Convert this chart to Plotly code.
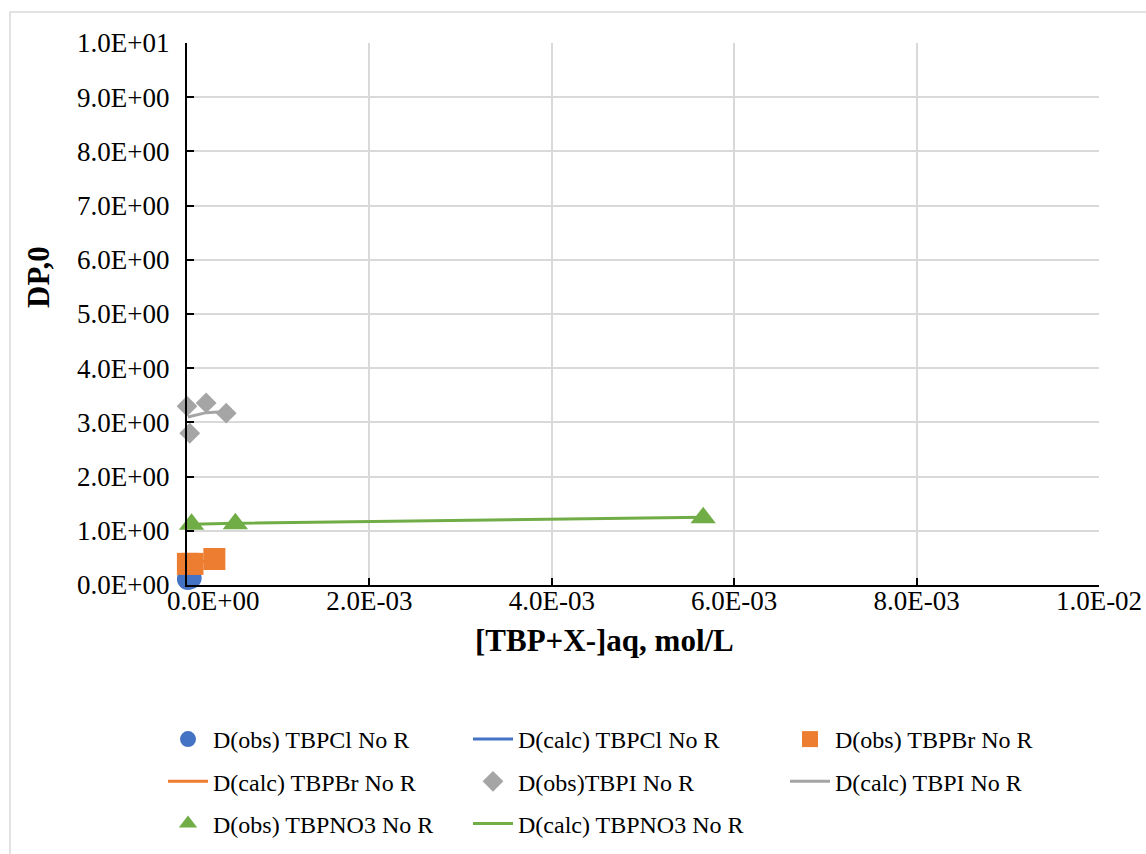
import plotly.graph_objects as go

# Distribution ratio data, TBP+ salts without reagent
cl_x = [0.00001, 0.00004]
cl_obs = [0.11, 0.13]
cl_calc = [0.12, 0.12]

br_x = [0.00001, 0.00006, 0.00030]
br_obs = [0.39, 0.39, 0.48]
br_calc = [0.41, 0.42, 0.45]

i_x = [0.00000, 0.00021, 0.00043, 0.00003]
i_obs = [3.30, 3.36, 3.17, 2.80]
i_calc_x = [0.00001, 0.00021, 0.00043]
i_calc = [3.10, 3.18, 3.20]

no3_x = [0.00005, 0.00053, 0.00566]
no3_obs = [1.12, 1.13, 1.24]
no3_calc = [1.12, 1.14, 1.25]

x_tickvals = [0, 0.002, 0.004, 0.006, 0.008, 0.010]
x_ticktext = ["0.0E+00", "2.0E-03", "4.0E-03", "6.0E-03", "8.0E-03", "1.0E-02"]
y_tickvals = [0, 1, 2, 3, 4, 5, 6, 7, 8, 9, 10]
y_ticktext = ["0.0E+00", "1.0E+00", "2.0E+00", "3.0E+00", "4.0E+00", "5.0E+00",
              "6.0E+00", "7.0E+00", "8.0E+00", "9.0E+00", "1.0E+01"]

BLUE, ORANGE, GREY, GREEN = "#4472C4", "#ED7D31", "#A5A5A5", "#70AD47"
FONT = "Liberation Serif, Times New Roman, serif"

fig = go.Figure()

def obs(x, y, name, color, symbol, size, legend, group):
    fig.add_trace(go.Scatter(x=x, y=y, mode="markers", name=name, cliponaxis=False,
                             marker=dict(color=color, symbol=symbol, size=size),
                             legend=legend, legendgroup=group))

def calc(x, y, name, color, legend, group):
    fig.add_trace(go.Scatter(x=x, y=y, mode="lines", name=name, cliponaxis=False,
                             line=dict(color=color, width=3),
                             legend=legend, legendgroup=group))

obs(cl_x, cl_obs, "D(obs) TBPCl No R", BLUE, "circle", 22, "legend", "a1")
calc(cl_x, cl_calc, "D(calc) TBPCl No R", BLUE, "legend2", "b1")
obs(br_x, br_obs, "D(obs) TBPBr No R", ORANGE, "square", 22, "legend3", "c1")
calc(br_x, br_calc, "D(calc) TBPBr No R", ORANGE, "legend", "a2")
obs(i_x, i_obs, "D(obs)TBPI No R", GREY, "diamond", 16, "legend2", "b2")
calc(i_calc_x, i_calc, "D(calc) TBPI No R", GREY, "legend3", "c2")
obs(no3_x, no3_obs, "D(obs) TBPNO3 No R", GREEN, "triangle-up", 22, "legend", "a3")
calc(no3_x, no3_calc, "D(calc) TBPNO3 No R", GREEN, "legend2", "b3")

# plot area in pixels: x 187..1099, y 43..585
L, R, T, B = 187, 47, 43, 269
W, H = 1146, 854
pw, ph = W - L - R, H - T - B

def px(xp):
    return (xp - L) / pw

def py(yp):
    return (H - B - yp) / ph

leg_common = dict(orientation="v", yanchor="top", xanchor="left",
                  font=dict(family=FONT, size=24, color="black"),
                  bgcolor="rgba(0,0,0,0)", itemwidth=40, tracegroupgap=8,
                  itemclick=False, itemdoubleclick=False)
legend_y = py(717)

# the first x label sits shifted right, clear of the y labels
x_labels_drawn = [""] + x_ticktext[1:]

fig.update_layout(
    width=W, height=H,
    margin=dict(l=L, r=R, t=T, b=B, autoexpand=False),
    paper_bgcolor="white", plot_bgcolor="white",
    font=dict(family=FONT, size=27, color="black"),
    showlegend=True,
    legend=dict(x=px(163), y=legend_y, **leg_common),
    legend2=dict(x=px(468), y=legend_y, **leg_common),
    legend3=dict(x=px(785), y=legend_y, **leg_common),
    xaxis=dict(range=[0, 0.01], tickvals=x_tickvals, ticktext=x_labels_drawn,
               showgrid=True, gridcolor="#d9d9d9", gridwidth=1.5,
               showline=True, linecolor="black", linewidth=2,
               ticks="inside", ticklen=7, tickwidth=2, tickcolor="black",
               zeroline=False, ticklabelstandoff=-9,
               tickfont=dict(family=FONT, size=27, color="black")),
    yaxis=dict(range=[0, 10], tickvals=y_tickvals, ticktext=y_ticktext,
               showgrid=True, gridcolor="#d9d9d9", gridwidth=1.5,
               showline=True, linecolor="black", linewidth=2,
               ticks="inside", ticklen=7, tickwidth=2, tickcolor="black",
               zeroline=False, ticklabelstandoff=10,
               tickfont=dict(family=FONT, size=27, color="black")),
    annotations=[
        dict(text=x_ticktext[0], x=px(213), y=py(601), xref="paper", yref="paper",
             showarrow=False, xanchor="center", yanchor="middle",
             font=dict(family=FONT, size=27, color="black")),
        dict(text="<b>[TBP+X-]aq, mol/L</b>", x=px(604), y=py(640), xref="paper", yref="paper",
             showarrow=False, xanchor="center", yanchor="middle",
             font=dict(family=FONT, size=31, color="black")),
        dict(text="<b>DP,0</b>", x=px(38), y=py(277), xref="paper", yref="paper",
             showarrow=False, textangle=-90, xanchor="center", yanchor="middle",
             font=dict(family=FONT, size=31, color="black")),
    ],
    shapes=[
        dict(type="rect", xref="paper", yref="paper",
             x0=px(10), x1=px(1160), y0=py(870), y1=py(12),
             line=dict(color="#d9d9d9", width=1.5), fillcolor="rgba(0,0,0,0)", layer="below"),
    ],
)

fig.write_html("out.html")
